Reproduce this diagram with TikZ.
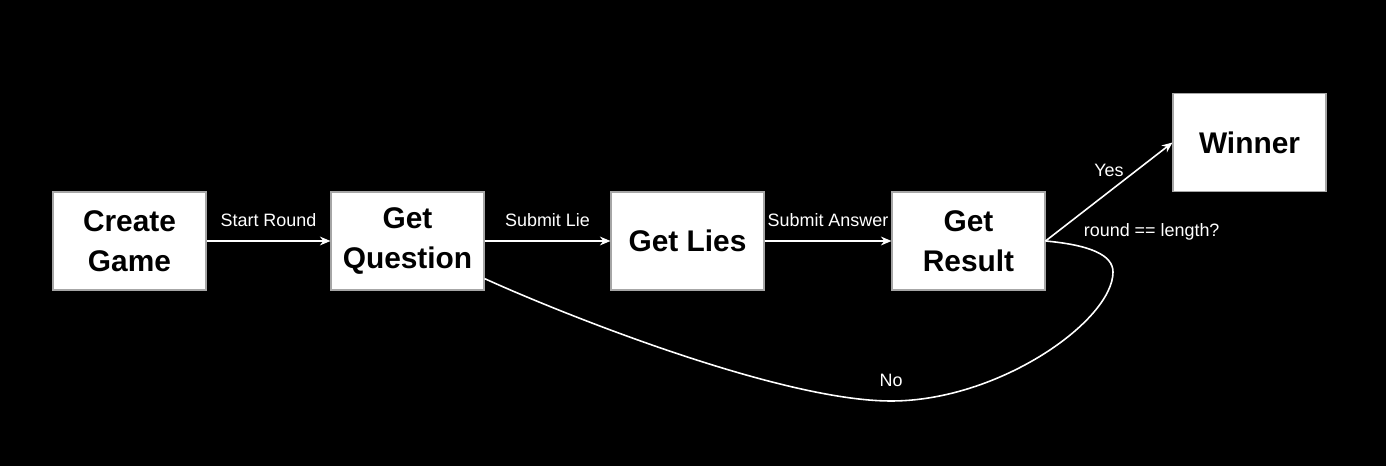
\documentclass[tikz,border=0pt]{standalone}
\usepackage{fontspec}
\setmainfont{Liberation Sans}
\usetikzlibrary{arrows.meta,positioning}

\begin{document}
\begin{tikzpicture}
            \fill[black] (0,0) rectangle (27.72,9.32);

            \begin{scope}[every node/.style={rectangle,draw=gray!70,line width=0.6pt,fill=white,text=black,
                    minimum width=3.06cm,minimum height=1.96cm,inner sep=0pt,align=center,
                    font=\fontsize{17}{22.5}\selectfont\bfseries}]
                \node (C) at (2.59,4.50) {Create\\Game};
                \node (Q) at (8.15,4.50) {Get\\Question};
                \node (L) at (13.75,4.50) {Get Lies};
                \node (R) at (19.37,4.50) {Get\\Result};

                \node (W) at (24.99,6.47) {Winner};
            \end{scope}

            \begin{scope}[white,line width=0.9pt,>={Stealth[length=6pt,width=5pt]},
                    every node/.style={text=white,font=\fontsize{10.2}{12}\selectfont}]
                \path [->] (C) edge node[above=4.5pt] {Start Round} (Q);
                \path [->] (Q) edge node[above=4.5pt] {Submit Lie} (L);
                \path [->] (L) edge node[above=4.5pt] {Submit Answer} (R);

                \path [->] (R.east) edge node[above=5pt] {Yes}
                    node[pos=0.25,anchor=north west] {round == length?} (W.west);

                \draw (R.east) .. controls (21.80,4.42) and (22.26,4.22) .. (22.26,3.88)
                    .. controls (22.26,2.92) and (20.00,1.30) .. (17.82,1.30) node[above=4.5pt] {No}
                    .. controls (15.60,1.30) and (11.20,3.06) .. (Q.-26);
            \end{scope}
            \end{tikzpicture}
\end{document}
